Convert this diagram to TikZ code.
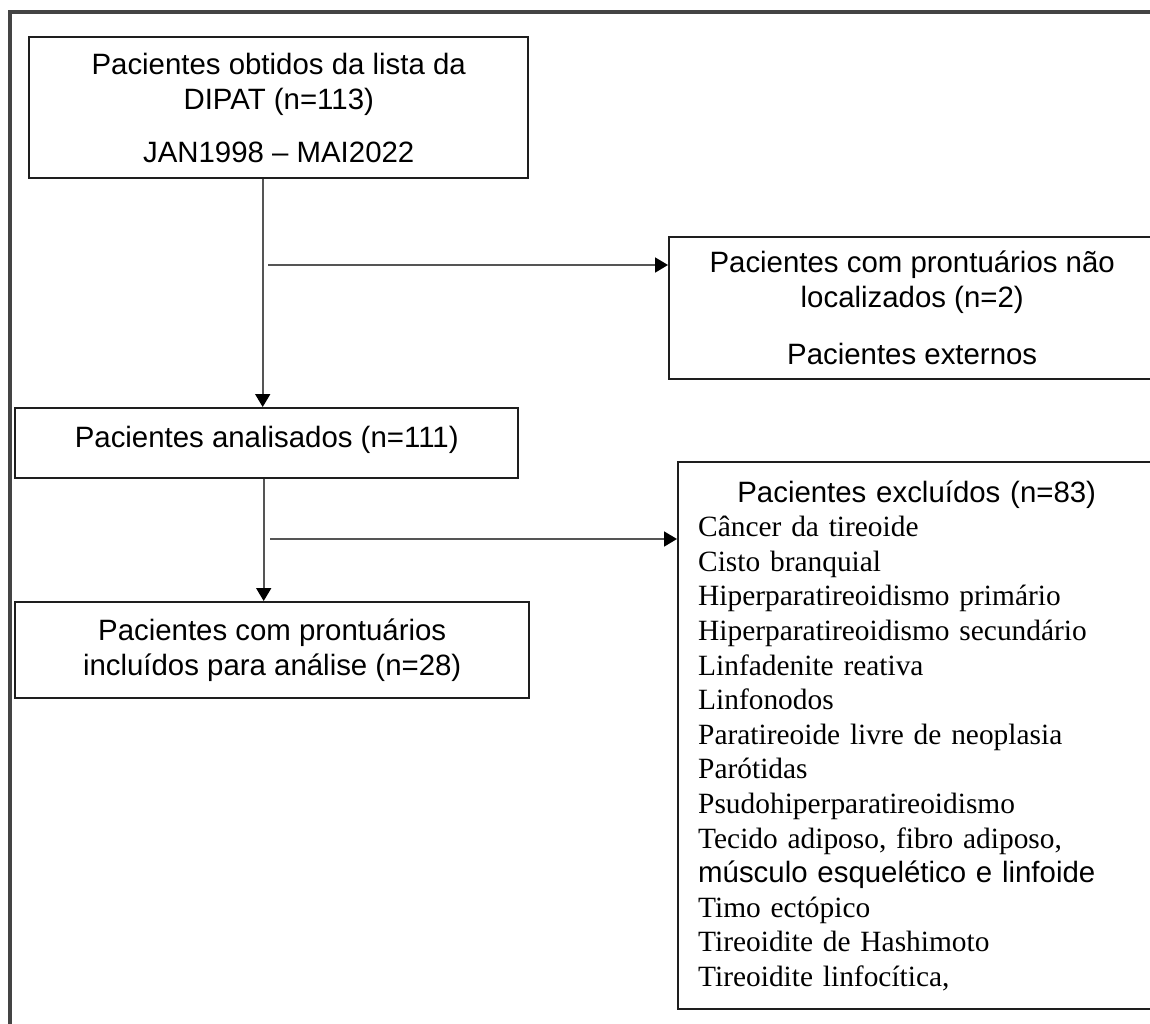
\documentclass[tikz,border=0pt]{standalone}
\usepackage{fontspec}
\setmainfont{Liberation Serif}
\setsansfont{Liberation Sans}
\usepackage{tikz}
\usetikzlibrary{arrows.meta,positioning}
\definecolor{ink}{HTML}{1E1E1E}
\definecolor{wire}{HTML}{555555}
\definecolor{outline}{HTML}{444444}

\begin{document}
\begin{tikzpicture}[
x=0.5pt,y=-0.5pt,
box/.style={draw=ink,line width=1.2pt,align=center,inner sep=0pt,anchor=north west,font=\sffamily\fontsize{14.7}{17.5}\selectfont},
listbox/.style={draw=ink,line width=1.2pt,align=left,inner xsep=10pt,inner ysep=0pt,anchor=north west,text width=218.5pt,minimum height=273.5pt,font=\fontsize{14.7}{17.3}\selectfont},
arr/.style={-{Triangle[length=6.5pt,width=7.5pt,color=black]},line width=0.9pt,color=wire}
]
\useasboundingbox (0,0) rectangle (1150,1023);
\clip (0,0) rectangle (1150,1023);
\draw[outline,line width=1.6pt] (10,12) rectangle (1200,1100);

\node[box,minimum width=249.5pt,minimum height=70.5pt] (obtidos) at (28,36) {Pacientes obtidos da lista da\\DIPAT (n=113)\\[9pt]JAN1998 – MAI2022};
\node[box,minimum width=243pt,minimum height=71pt] (naoloc) at (668,236) {Pacientes com prontuários não\\localizados (n=2)\\[11pt]Pacientes externos};
\node[box,minimum width=251.5pt,text height=19.5pt,text depth=15.5pt] (analis) at (14,407) {Pacientes analisados (n=111)};
\node[box,minimum width=257pt,minimum height=48pt] (incl) at (14,601) {Pacientes com prontuários\\incluídos para análise (n=28)};
\node[listbox] (excl) at (677,461) {{\centering\sffamily Pacientes excluídos (n=83)\par}
Câncer da tireoide\\
Cisto branquial\\
Hiperparatireoidismo primário\\
Hiperparatireoidismo secundário\\
Linfadenite reativa\\
Linfonodos\\
Paratireoide livre de neoplasia\\
Parótidas\\
Psudohiperparatireoidismo\\
Tecido adiposo, fibro adiposo,\\
{\sffamily músculo esquelético e linfoide}\\
Timo ectópico\\
Tireoidite de Hashimoto\\
Tireoidite linfocítica,};

\coordinate (br1) at (268,265);
\coordinate (br2) at (270,539);
\draw[arr] ([xshift=-2pt]analis.north |- obtidos.south)--([xshift=-2pt]analis.north);
\draw[arr] (br1)--(br1 -| naoloc.west);
\draw[arr] ([xshift=-1.5pt]analis.south)--([xshift=-1.5pt]analis.south |- incl.north);
\draw[arr] (br2)--(br2 -| excl.west);
\end{tikzpicture}
\end{document}
